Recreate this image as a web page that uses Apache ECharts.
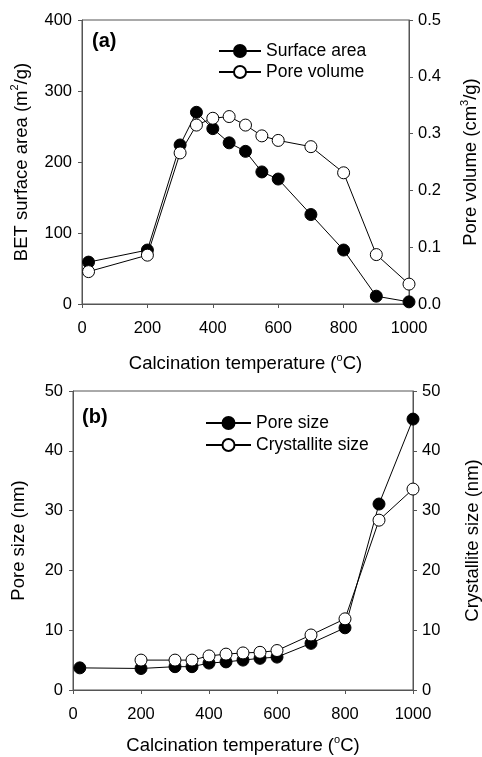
<!DOCTYPE html>
<html>
<head>
<meta charset="utf-8">
<script src="https://cdn.jsdelivr.net/npm/echarts@6/dist/echarts.min.js"></script>
<style>
html,body{margin:0;padding:0;background:#fff;}
#chart{width:482px;height:757px;}
</style>
</head>
<body>
<div id="chart"></div>
<script>
// Panel (a)
var tempA = [20, 200, 300, 350, 400, 450, 500, 550, 600, 700, 800, 900, 1000];
var surfaceArea = [59, 76, 224, 270, 247, 227, 215, 186, 176, 126, 76, 11, 3];
var poreVolume = [0.057, 0.086, 0.266, 0.315, 0.327, 0.330, 0.315, 0.296, 0.288, 0.277, 0.231, 0.087, 0.035];
// Panel (b)
var tempB = [20, 200, 300, 350, 400, 450, 500, 550, 600, 700, 800, 900, 1000];
var poreSize = [3.7, 3.6, 3.9, 3.9, 4.5, 4.7, 5.0, 5.3, 5.5, 7.8, 10.4, 31.1, 45.3];
var tempCryst = [200, 300, 350, 400, 450, 500, 550, 600, 700, 800, 900, 1000];
var crystalliteSize = [5.0, 5.0, 5.0, 5.7, 6.0, 6.2, 6.3, 6.6, 9.2, 11.9, 28.4, 33.6];

function pairs(xs, ys) { return xs.map(function (x, i) { return [x, ys[i]]; }); }

var FONT = 'Liberation Sans';
var AX = '#555';
var sup = { fontSize: 11, lineHeight: 9, verticalAlign: 'top', fontFamily: FONT, color: '#000' };
var nameStyle = { fontSize: 18.5, lineHeight: 24, color: '#000', fontFamily: FONT, rich: { s: sup } };

function xAxis(gridIndex, gap, margin) {
  return {
    type: 'value', gridIndex: gridIndex, min: 0, max: 1000, interval: 200,
    axisLine: { lineStyle: { color: AX, width: 1 } },
    axisTick: { length: 4, lineStyle: { color: AX } },
    splitLine: { show: false },
    axisLabel: { fontSize: 16.5, color: '#000', margin: margin, fontFamily: FONT, formatter: function (v) { return String(v); } },
    name: 'Calcination temperature ({s|o}C)', nameLocation: 'middle', nameGap: gap,
    nameTextStyle: nameStyle
  };
}
function yAxis(gridIndex, pos, min, max, interval, name, gap, fmt) {
  return {
    type: 'value', gridIndex: gridIndex, position: pos, min: min, max: max, interval: interval,
    axisLine: { show: true, lineStyle: { color: AX, width: 1 } },
    axisTick: { show: true, length: 4, lineStyle: { color: AX } },
    splitLine: { show: false },
    axisLabel: { fontSize: 16.5, color: '#000', margin: pos === 'left' ? 10 : 9, fontFamily: FONT, formatter: fmt || function (v) { return String(v); } },
    name: name, nameLocation: 'middle', nameGap: gap,
    nameTextStyle: nameStyle
  };
}
function lineSeries(name, data, xi, yi, filled) {
  return {
    type: 'line', name: name, data: data, xAxisIndex: xi, yAxisIndex: yi,
    symbol: 'circle', symbolSize: 12,
    lineStyle: { color: '#000', width: 1 },
    itemStyle: { color: filled ? '#000' : '#fff', borderColor: '#000', borderWidth: 1 },
    emphasis: { disabled: true }, animation: false
  };
}

var chart = echarts.init(document.getElementById('chart'), null, { renderer: 'canvas' });
chart.setOption({
  animation: false,
  textStyle: { fontFamily: FONT },
  grid: [
    { left: 82, top: 20, width: 327, height: 284, show: true, borderColor: AX, borderWidth: 1, containLabel: false, outerBoundsMode: 'none' },
    { left: 73, top: 391, width: 340, height: 299, show: true, borderColor: AX, borderWidth: 1, containLabel: false, outerBoundsMode: 'none' }
  ],
  xAxis: [xAxis(0, 48, 16), xAxis(1, 44, 16)],
  yAxis: [
    yAxis(0, 'left', 0, 400, 100, 'BET surface area (m{s|2}/g)', 48, null),
    yAxis(0, 'right', 0, 0.5, 0.1, 'Pore volume (cm{s|3}/g)', 50, function (v) { return v.toFixed(1); }),
    yAxis(1, 'left', 0, 50, 10, 'Pore size (nm)', 42, null),
    yAxis(1, 'right', 0, 50, 10, 'Crystallite size (nm)', 48, null)
  ],
  legend: [
    { data: ['Surface area', 'Pore volume'], orient: 'vertical', left: 213, top: 37,
      itemWidth: 42, itemHeight: 15, itemGap: 3, selectedMode: false,
      textStyle: { fontSize: 17.5, color: '#000', fontFamily: FONT, lineHeight: 18 } },
    { data: ['Pore size', 'Crystallite size'], orient: 'vertical', left: 200, top: 409,
      itemWidth: 45, itemHeight: 15, itemGap: 4, selectedMode: false,
      textStyle: { fontSize: 17.5, color: '#000', fontFamily: FONT, lineHeight: 18 } }
  ],
  graphic: [
    { type: 'text', left: 92, top: 31, style: { text: '(a)', fontSize: 20, fontWeight: 'bold', fontFamily: FONT, fill: '#000' } },
    { type: 'text', left: 82, top: 407, style: { text: '(b)', fontSize: 20, fontWeight: 'bold', fontFamily: FONT, fill: '#000' } }
  ],
  series: [
    lineSeries('Surface area', pairs(tempA, surfaceArea), 0, 0, true),
    lineSeries('Pore volume', pairs(tempA, poreVolume), 0, 1, false),
    lineSeries('Pore size', pairs(tempB, poreSize), 1, 2, true),
    lineSeries('Crystallite size', pairs(tempCryst, crystalliteSize), 1, 3, false)
  ]
});
</script>
</body>
</html>
